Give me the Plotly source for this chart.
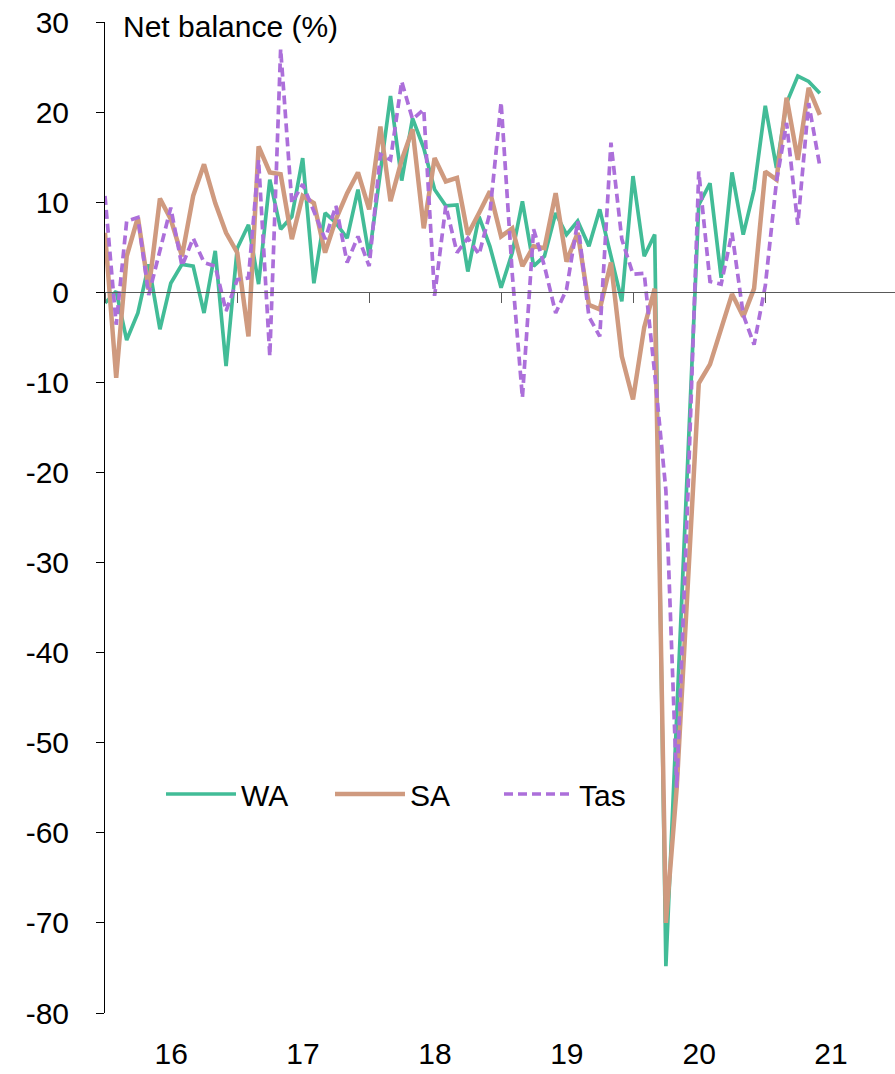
import pandas as pd
import plotly.graph_objects as go

# ---- data (monthly, Jan 2016 - Jun 2021), net balance % ----
months = pd.date_range("2016-01-01", periods=66, freq="MS")

wa = [-1.2, 0.1, -5.3, -2.3, 3.1, -4.1, 1.0, 3.1, 2.9, -2.3, 4.6, -8.2,
      4.9, 7.5, 0.9, 12.5, 7.0, 8.4, 14.9, 1.0, 8.8, 7.7, 6.0, 11.4,
      4.0, 13.5, 21.8, 12.4, 19.3, 16.0, 11.4, 9.6, 9.7, 2.3, 8.4, 5.1,
      0.5, 4.4, 10.1, 2.9, 4.0, 8.8, 6.4, 7.9, 5.1, 9.2, 4.0, -1.0,
      12.9, 4.0, 6.4, -74.8, -47.0, -18.5, 9.7, 12.1, 1.6, 13.3, 6.4, 11.4,
      20.7, 13.8, 21.0, 24.0, 23.4, 22.1]

sa = [6.6, -9.5, 4.0, 8.3, 0.3, 10.4, 8.1, 4.0, 10.7, 14.2, 9.9, 6.6,
      4.4, -4.9, 16.2, 13.3, 13.1, 5.9, 10.7, 9.9, 4.4, 8.1, 11.0, 13.3,
      9.2, 18.4, 10.1, 14.7, 18.1, 7.1, 14.9, 12.3, 12.7, 6.4, 8.8, 11.2,
      6.2, 7.1, 2.9, 5.1, 4.9, 11.0, 3.4, 6.6, -1.4, -1.9, 3.3, -7.1,
      -11.9, -3.9, 0.4, -70.0, -55.0, -33.0, -10.1, -8.0, -4.1, -0.2, -2.7, 0.4,
      13.4, 12.5, 21.6, 14.7, 22.7, 19.7]

tas = [10.7, -3.6, 7.9, 8.3, -0.3, 4.5, 9.4, 2.9, 6.0, 3.3, 2.9, -2.1,
       1.4, 1.6, 14.7, -7.1, 27.0, 9.9, 12.0, 9.0, 5.9, 9.6, 3.3, 6.2,
       2.9, 15.3, 14.7, 23.4, 19.2, 20.3, -0.4, 9.6, 4.4, 6.0, 4.2, 8.8,
       21.1, 2.0, -11.7, 7.0, 2.9, -2.3, 0.3, 7.9, -2.7, -4.9, 16.6, 5.9,
       2.0, 2.1, -9.0, -22.0, -55.0, -22.4, 13.4, 1.2, 0.9, 6.6, -2.5, -5.8,
       0.7, 12.3, 18.8, 7.5, 21.0, 14.0]

year_labels = ["16", "17", "18", "19", "20", "21"]
y_ticks = list(range(-80, 31, 10))
y_tick_labels = [str(v) for v in y_ticks]

# ---- styling ----
FONT = "Liberation Sans"
C_WA = "#42BC97"
C_SA = "#CF9A7F"
C_TAS = "#AC6FDA"
AXIS_GREY = "#595959"

x_start = pd.Timestamp("2016-01-01")
x_end = x_start + pd.Timedelta(days=790 / 132 * 365.25)
label_pos = [pd.Timestamp(f"20{y}-07-02") for y in year_labels]

fig = go.Figure()
fig.add_trace(go.Scatter(x=months, y=wa, name="WA", mode="lines",
                         line=dict(color=C_WA, width=3.7)))
fig.add_trace(go.Scatter(x=months, y=sa, name="SA", mode="lines",
                         line=dict(color=C_SA, width=4.5)))
fig.add_trace(go.Scatter(x=months, y=tas, name="Tas", mode="lines",
                         line=dict(color=C_TAS, width=3.7, dash="9px,5px")))
# invisible trace so the label axis is drawn
fig.add_trace(go.Scatter(x=[months[0]], y=[None], xaxis="x2", mode="lines",
                         showlegend=False, hoverinfo="skip"))

fig.update_layout(
    width=895, height=1074,
    margin=dict(l=105, r=0, t=22, b=61, autoexpand=False),
    paper_bgcolor="white", plot_bgcolor="white",
    font=dict(family=FONT, size=30, color="#000000"),
    showlegend=True,
    legend=dict(orientation="h", x=(161 - 105) / 790, xanchor="left",
                y=(1013 - 794) / 991, yanchor="middle",
                bgcolor="rgba(0,0,0,0)", itemwidth=70, font=dict(size=30),
                entrywidth=84, entrywidthmode="pixels",
                traceorder="normal"),
    xaxis=dict(type="date", range=[x_start, x_end], anchor="free", position=80 / 110,
               showline=True, linecolor=AXIS_GREY, linewidth=1.3,
               ticks="outside", ticklen=10, tickwidth=1.3, tickcolor=AXIS_GREY,
               dtick="M12", tick0="2016-01-01", showticklabels=False,
               showgrid=False, zeroline=False, automargin=False),
    xaxis2=dict(type="date", range=[x_start, x_end], overlaying="x", anchor="y", side="bottom",
                tickmode="array", tickvals=label_pos, ticktext=year_labels,
                ticks="", showline=False, showgrid=False, zeroline=False,
                tickfont=dict(size=30), ticklabelstandoff=20, automargin=False),
    yaxis=dict(range=[-80, 30], tickmode="array", tickvals=y_ticks, ticktext=y_tick_labels,
               showline=True, linecolor="#000000", linewidth=1,
               ticks="outside", ticklen=8, tickcolor="#000000",
               showgrid=False, zeroline=False, tickfont=dict(size=30),
               ticklabelstandoff=21, automargin=False),
    annotations=[dict(text="Net balance (%)", xref="paper", yref="paper",
                      x=(121 - 105) / 790, y=1 + 14 / 991, xanchor="left", yanchor="top",
                      showarrow=False, font=dict(size=30))],
)

fig.write_html("out.html", config={"displayModeBar": False},
               post_script="document.body.style.margin='0';")
